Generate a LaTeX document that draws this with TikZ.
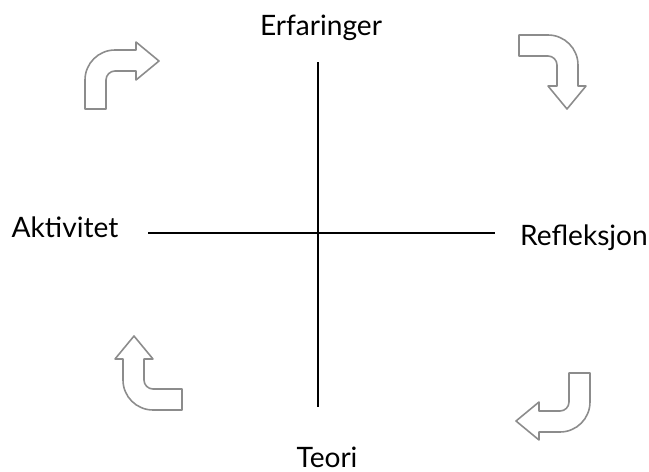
\documentclass[tikz,border=0pt]{standalone}
\usepackage{fontspec}
\setmainfont{Lato}

\tikzset{
  axis/.style={line width=1.7pt},
  label/.style={anchor=base, font=\fontsize{16}{18}\selectfont},
  turn/.style={draw=gray!90, line width=0.9pt, fill=white, line join=round},
  bent/.pic={
    \path[turn] (0,0) -- (0,29) arc[start angle=180, end angle=90, radius=30]
      -- (51,59) -- (51,67) -- (74,48) -- (51,29) -- (51,38) -- (30,38)
      arc[start angle=90, end angle=180, radius=9] -- (21,0) -- cycle;
  }
}

\begin{document}
\begin{tikzpicture}[x=0.02cm, y=0.02cm]
  \useasboundingbox (0,0) rectangle (649,471);

  % the two axes
  \coordinate (up) at (318,409);
  \coordinate (down) at (318,64);
  \coordinate (left) at (148,238);
  \coordinate (right) at (495,238);
  \draw[axis] (up) -- (down);
  \draw[axis] (left) -- (right);

  \node (erf) [label] at (321,436) {Erfaringer};
  \node (akt) [label] at (65,234) {Aktivitet};
  \node (ref) [label] at (584,226) {Refleksjon};
  \node (teo) [label] at (327,4) {Teori};

  % turning arrows in the corners
  \pic at (85,362) {bent};
  \pic[rotate=-90] at (519,436) {bent};
  \pic[rotate=180] at (590,98) {bent};
  \pic[rotate=90] at (182,61) {bent};
\end{tikzpicture}
\end{document}
